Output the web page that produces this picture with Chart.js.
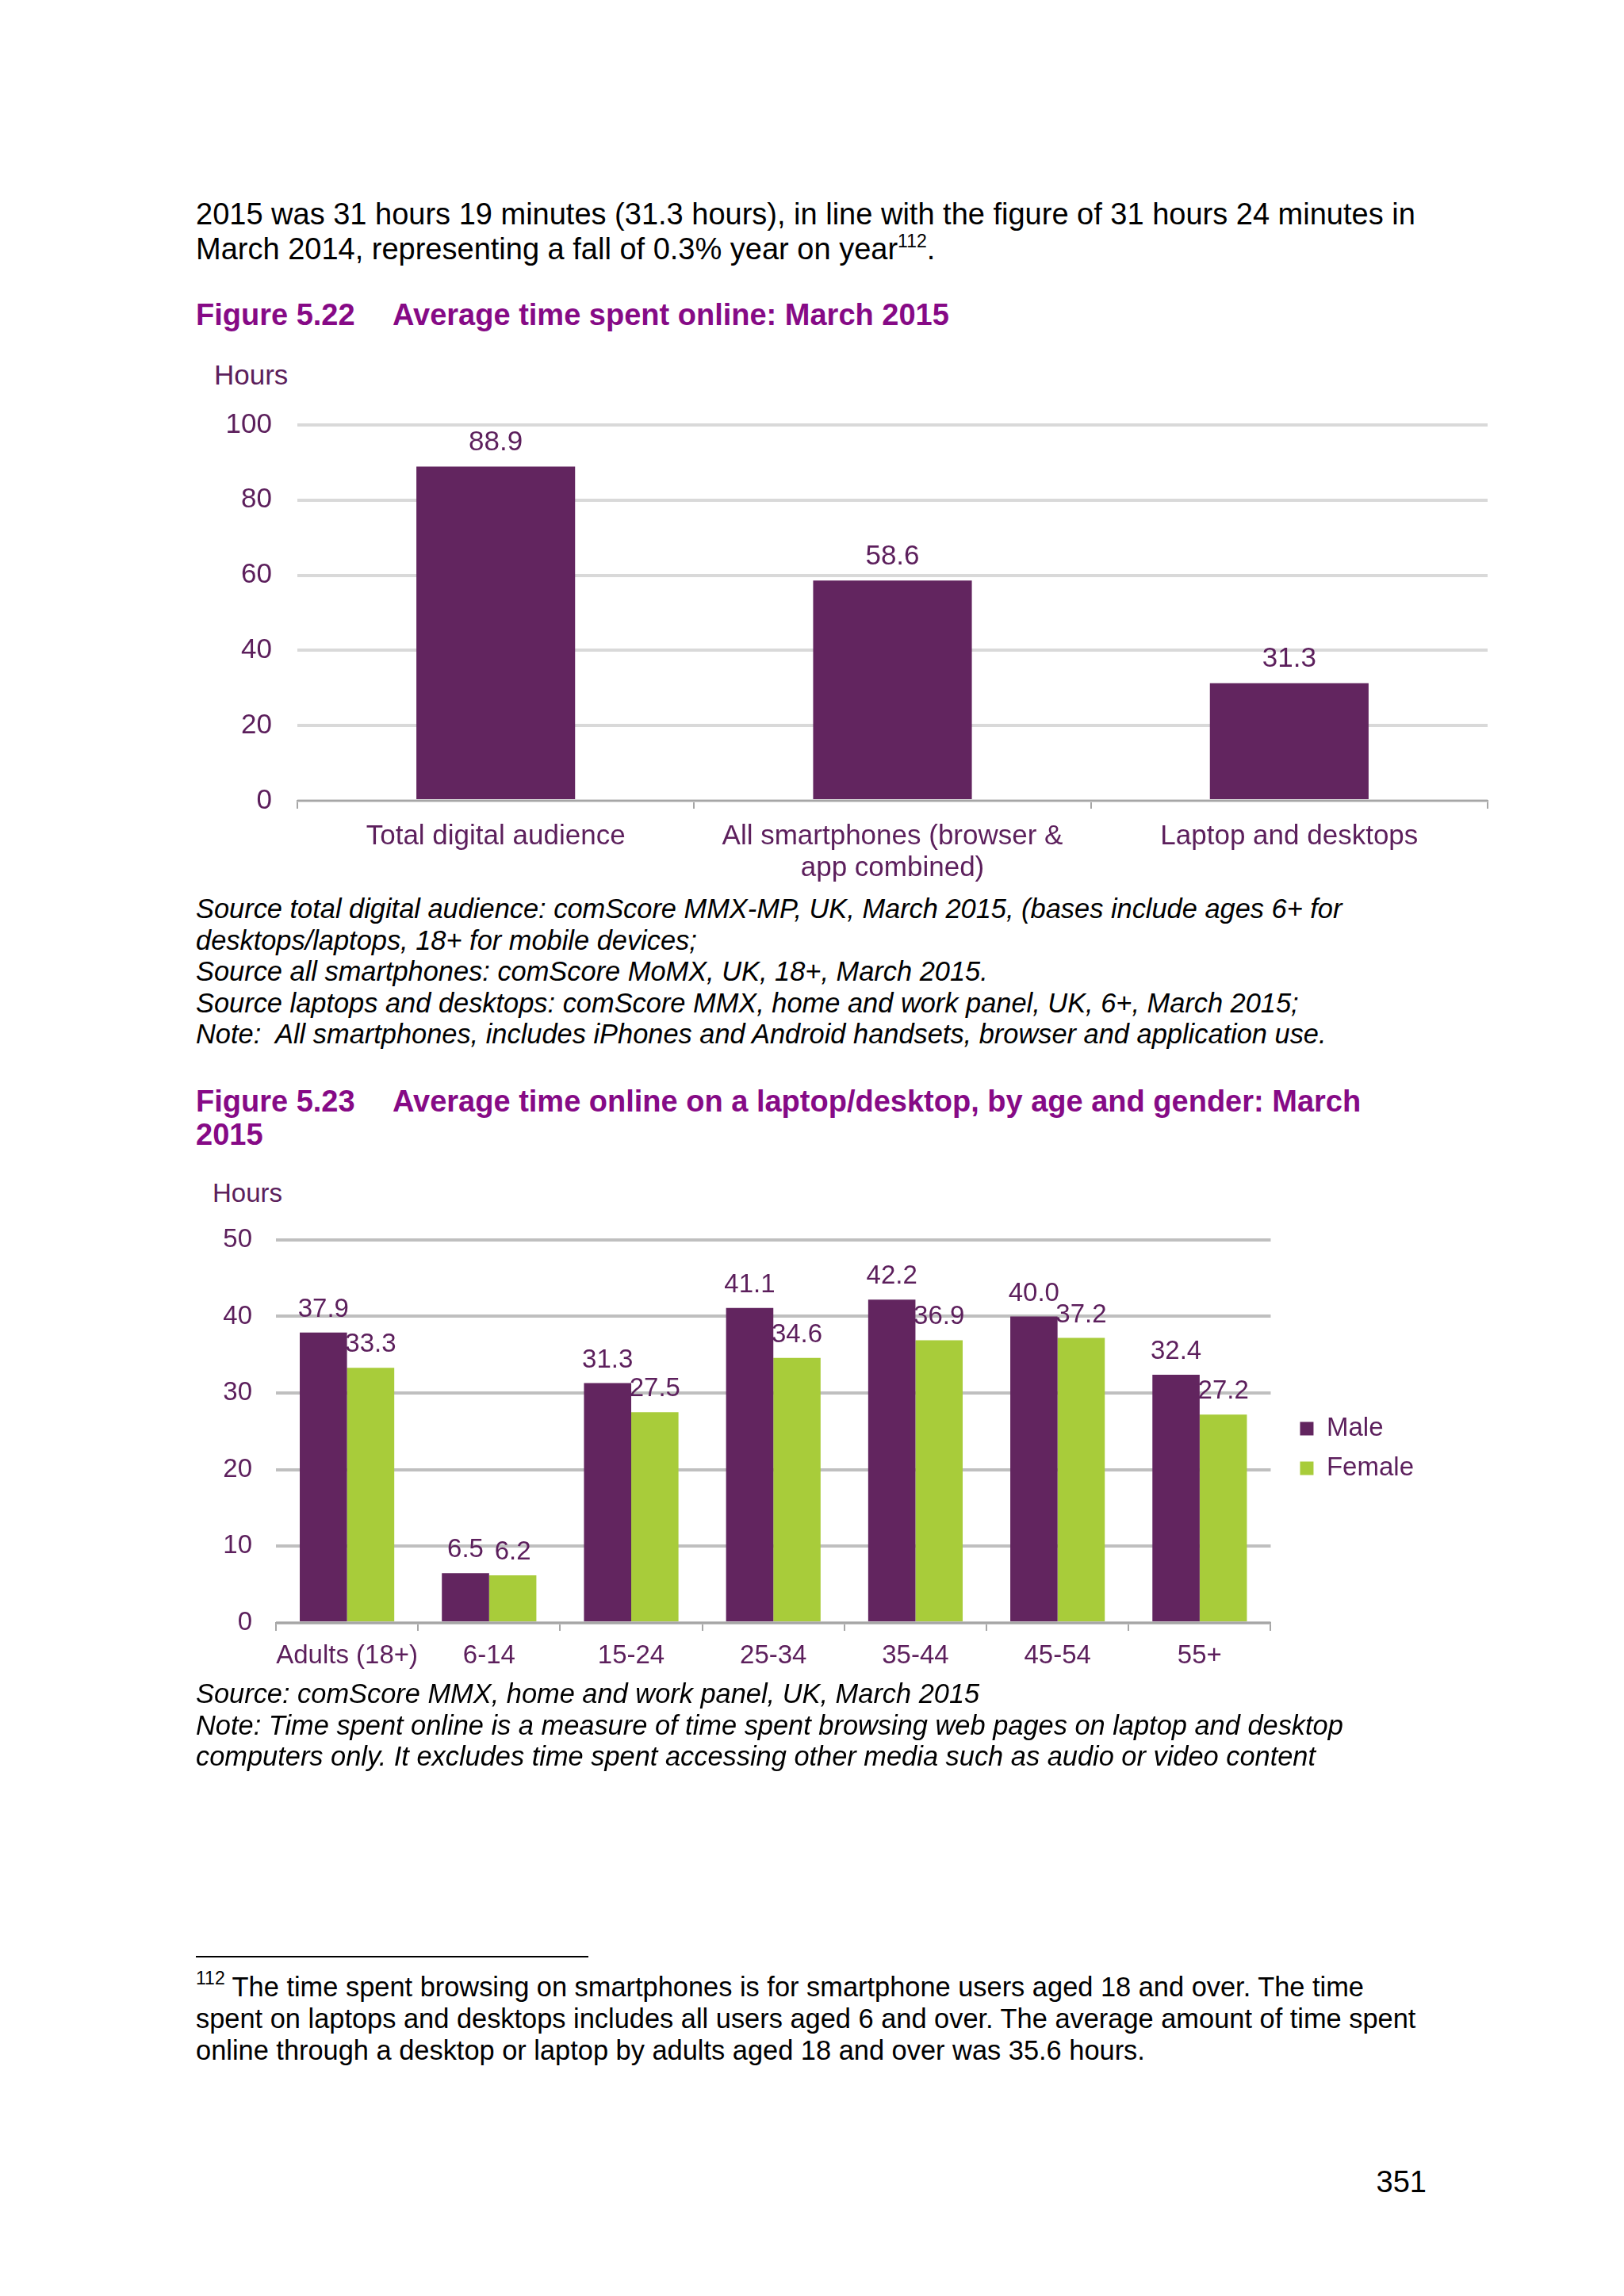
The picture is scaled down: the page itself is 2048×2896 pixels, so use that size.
<!DOCTYPE html>
<html>
<head>
<meta charset="utf-8">
<script src="https://cdn.jsdelivr.net/npm/chart.js@4.4.1/dist/chart.umd.min.js"></script>
<style>
  html, body { margin:0; padding:0; background:#ffffff; }
  body { width:2048px; height:2896px; position:relative; font-family:"Liberation Sans", Arial, sans-serif; color:#000; }
  .t { position:absolute; white-space:nowrap; }
  .title { font-weight:bold; color:#860A86; font-size:38px; line-height:42px; }
  .src { font-style:italic; font-size:34.4px; line-height:39.6px; }
  .axt { color:#5C1F5C; }
  .sup { font-size:23px; position:relative; top:-15px; line-height:0; }
  .box { position:absolute; }
</style>
</head>
<body>
<script>
// ---- Data: Figure 5.22 ----
const digitalCategories = ["Total digital audience", ["All smartphones (browser &", "app combined)"], "Laptop and desktops"];
const digitalHours = [88.9, 58.6, 31.3];
const digitalTicks = [0, 20, 40, 60, 80, 100];

// ---- Data: Figure 5.23 ----
const ageCategories = ["Adults (18+)", "6-14", "15-24", "25-34", "35-44", "45-54", "55+"];
const maleHours = [37.9, 6.5, 31.3, 41.1, 42.2, 40.0, 32.4];
const femaleHours = [33.3, 6.2, 27.5, 34.6, 36.9, 37.2, 27.2];
const ageTicks = [0, 10, 20, 30, 40, 50];
const seriesNames = ["Male", "Female"];
</script>

<div class="t" style="left:247px; top:248px; font-size:38px; line-height:44px;">2015 was 31 hours 19 minutes (31.3 hours), in line with the figure of 31 hours 24 minutes in<br>March 2014, representing a fall of 0.3% year on year<span class="sup">112</span>.</div>

<div class="t title" style="left:247px; top:376px;"><span style="display:inline-block;width:248px;">Figure 5.22</span>Average time spent online: March 2015</div>

<div class="t axt" style="left:270px; top:451px; font-size:35px; line-height:44px;">Hours</div>

<div class="box" style="left:200px; top:500px; width:1700px; height:620px;"><canvas id="c1"></canvas></div>

<div class="t src" style="left:247px; top:1127px;">Source total digital audience: comScore MMX-MP, UK, March 2015, (bases include ages 6+ for<br>desktops/laptops, 18+ for mobile devices;<br>Source all smartphones: comScore MoMX, UK, 18+, March 2015.<br>Source laptops and desktops: comScore MMX, home and work panel, UK, 6+, March 2015;<br>Note:&nbsp; All smartphones, includes iPhones and Android handsets, browser and application use.</div>

<div class="t title" style="left:247px; top:1368px;"><span style="display:inline-block;width:248px;">Figure 5.23</span>Average time online on a laptop/desktop, by age and gender: March<br>2015</div>

<div class="t axt" style="left:268px; top:1485px; font-size:33px; line-height:40px;">Hours</div>

<div class="box" style="left:200px; top:1530px; width:1593px; height:590px;"><canvas id="c2"></canvas></div>

<div class="t src" style="left:247px; top:2117px;">Source: comScore MMX, home and work panel, UK, March 2015<br>Note: Time spent online is a measure of time spent browsing web pages on laptop and desktop<br>computers only. It excludes time spent accessing other media such as audio or video content</div>

<div style="position:absolute; left:247px; top:2467px; width:495px; height:2px; background:#000;"></div>

<div class="t" style="left:247px; top:2486px; font-size:34.4px; line-height:40px;"><span class="sup">112</span> The time spent browsing on smartphones is for smartphone users aged 18 and over. The time<br>spent on laptops and desktops includes all users aged 6 and over. The average amount of time spent<br>online through a desktop or laptop by adults aged 18 and over was 35.6 hours.</div>

<div class="t" style="right:249px; top:2730px; font-size:38px; line-height:44px;">351</div>

<script>
const FONT = '"Liberation Sans", Arial, sans-serif';
const TXT = '#5C1F5C';
const PURPLE = '#62255F';
const GREEN = '#A8CC3A';
Chart.defaults.font.family = FONT;
Chart.defaults.color = TXT;

const valueLabels = {
  id: 'valueLabels',
  afterDatasetsDraw(chart, args, opts) {
    const ctx = chart.ctx;
    ctx.save();
    ctx.font = opts.size + 'px ' + FONT;
    ctx.fillStyle = opts.color;
    ctx.textAlign = 'center';
    ctx.textBaseline = 'middle';
    chart.data.datasets.forEach((ds, i) => {
      const meta = chart.getDatasetMeta(i);
      meta.data.forEach((bar, j) => {
        ctx.fillText(Number(ds.data[j]).toFixed(1), bar.x, bar.y - opts.offset);
      });
    });
    ctx.restore();
  }
};

new Chart(document.getElementById('c1'), {
  type: 'bar',
  data: {
    labels: digitalCategories,
    datasets: [{ label: 'Hours', data: digitalHours, backgroundColor: PURPLE, barPercentage: 1, categoryPercentage: 0.4 }]
  },
  options: {
    responsive: true, maintainAspectRatio: false, animation: false,
    layout: { padding: { top: 21, right: 24, left: 0, bottom: 0 } },
    scales: {
      x: {
        grid: { display: true, drawOnChartArea: false, drawTicks: true, tickLength: 10, color: '#A6A6A6', lineWidth: 2, offset: true },
        border: { display: true, color: '#A6A6A6', width: 2 },
        ticks: { font: { size: 35, lineHeight: 40/35 }, color: TXT, padding: 15, maxRotation: 0, autoSkip: false },
        afterFit: s => { s.height = 110; }
      },
      y: {
        min: 0, max: 100,
        afterBuildTicks: s => { s.ticks = digitalTicks.map(v => ({ value: v })); },
        grid: { color: '#D9D9D9', lineWidth: 4, drawTicks: true, tickLength: 17, tickColor: 'rgba(0,0,0,0)' },
        border: { display: false },
        ticks: { font: { size: 35 }, color: TXT, padding: 15 },
        afterFit: s => { s.width = 175; }
      }
    },
    plugins: {
      legend: { display: false },
      tooltip: { enabled: false },
      valueLabels: { size: 35, color: TXT, offset: 30 }
    }
  },
  plugins: [valueLabels]
});

new Chart(document.getElementById('c2'), {
  type: 'bar',
  data: {
    labels: ageCategories,
    datasets: [
      { label: seriesNames[0], data: maleHours, backgroundColor: PURPLE, barPercentage: 1, categoryPercentage: 0.665, yAxisID: 'y' },
      { label: seriesNames[1], data: femaleHours, backgroundColor: GREEN, barPercentage: 1, categoryPercentage: 0.665, yAxisID: 'y' }
    ]
  },
  options: {
    responsive: true, maintainAspectRatio: false, animation: false,
    layout: { padding: { top: 15, right: 0, left: 0, bottom: 11 } },
    scales: {
      x: {
        grid: { display: true, drawOnChartArea: false, drawTicks: true, tickLength: 10, color: '#A6A6A6', lineWidth: 2, offset: true },
        border: { display: true, color: '#A6A6A6', width: 2 },
        ticks: { font: { size: 33, lineHeight: 1.2 }, color: TXT, padding: 12, maxRotation: 0, autoSkip: false },
        afterFit: s => { s.height = 62; }
      },
      y: {
        min: 0, max: 50,
        afterBuildTicks: s => { s.ticks = ageTicks.map(v => ({ value: v })); },
        grid: { color: '#BFBFBF', lineWidth: 4, drawTicks: true, tickLength: 16, tickColor: 'rgba(0,0,0,0)' },
        border: { display: false },
        ticks: { font: { size: 33 }, color: TXT, padding: 14 },
        afterFit: s => { s.width = 148; }
      },
      y2: {
        position: 'right', display: true,
        grid: { display: false, drawTicks: false }, border: { display: false },
        ticks: { display: false },
        afterFit: s => { s.width = 20; }
      }
    },
    plugins: {
      legend: {
        display: true, position: 'right', align: 'center',
        labels: { boxWidth: 17, boxHeight: 17, padding: 17, font: { size: 33 }, color: TXT }
      },
      tooltip: { enabled: false },
      valueLabels: { size: 33, color: TXT, offset: 29 }
    }
  },
  plugins: [valueLabels]
});
</script>
</body>
</html>
